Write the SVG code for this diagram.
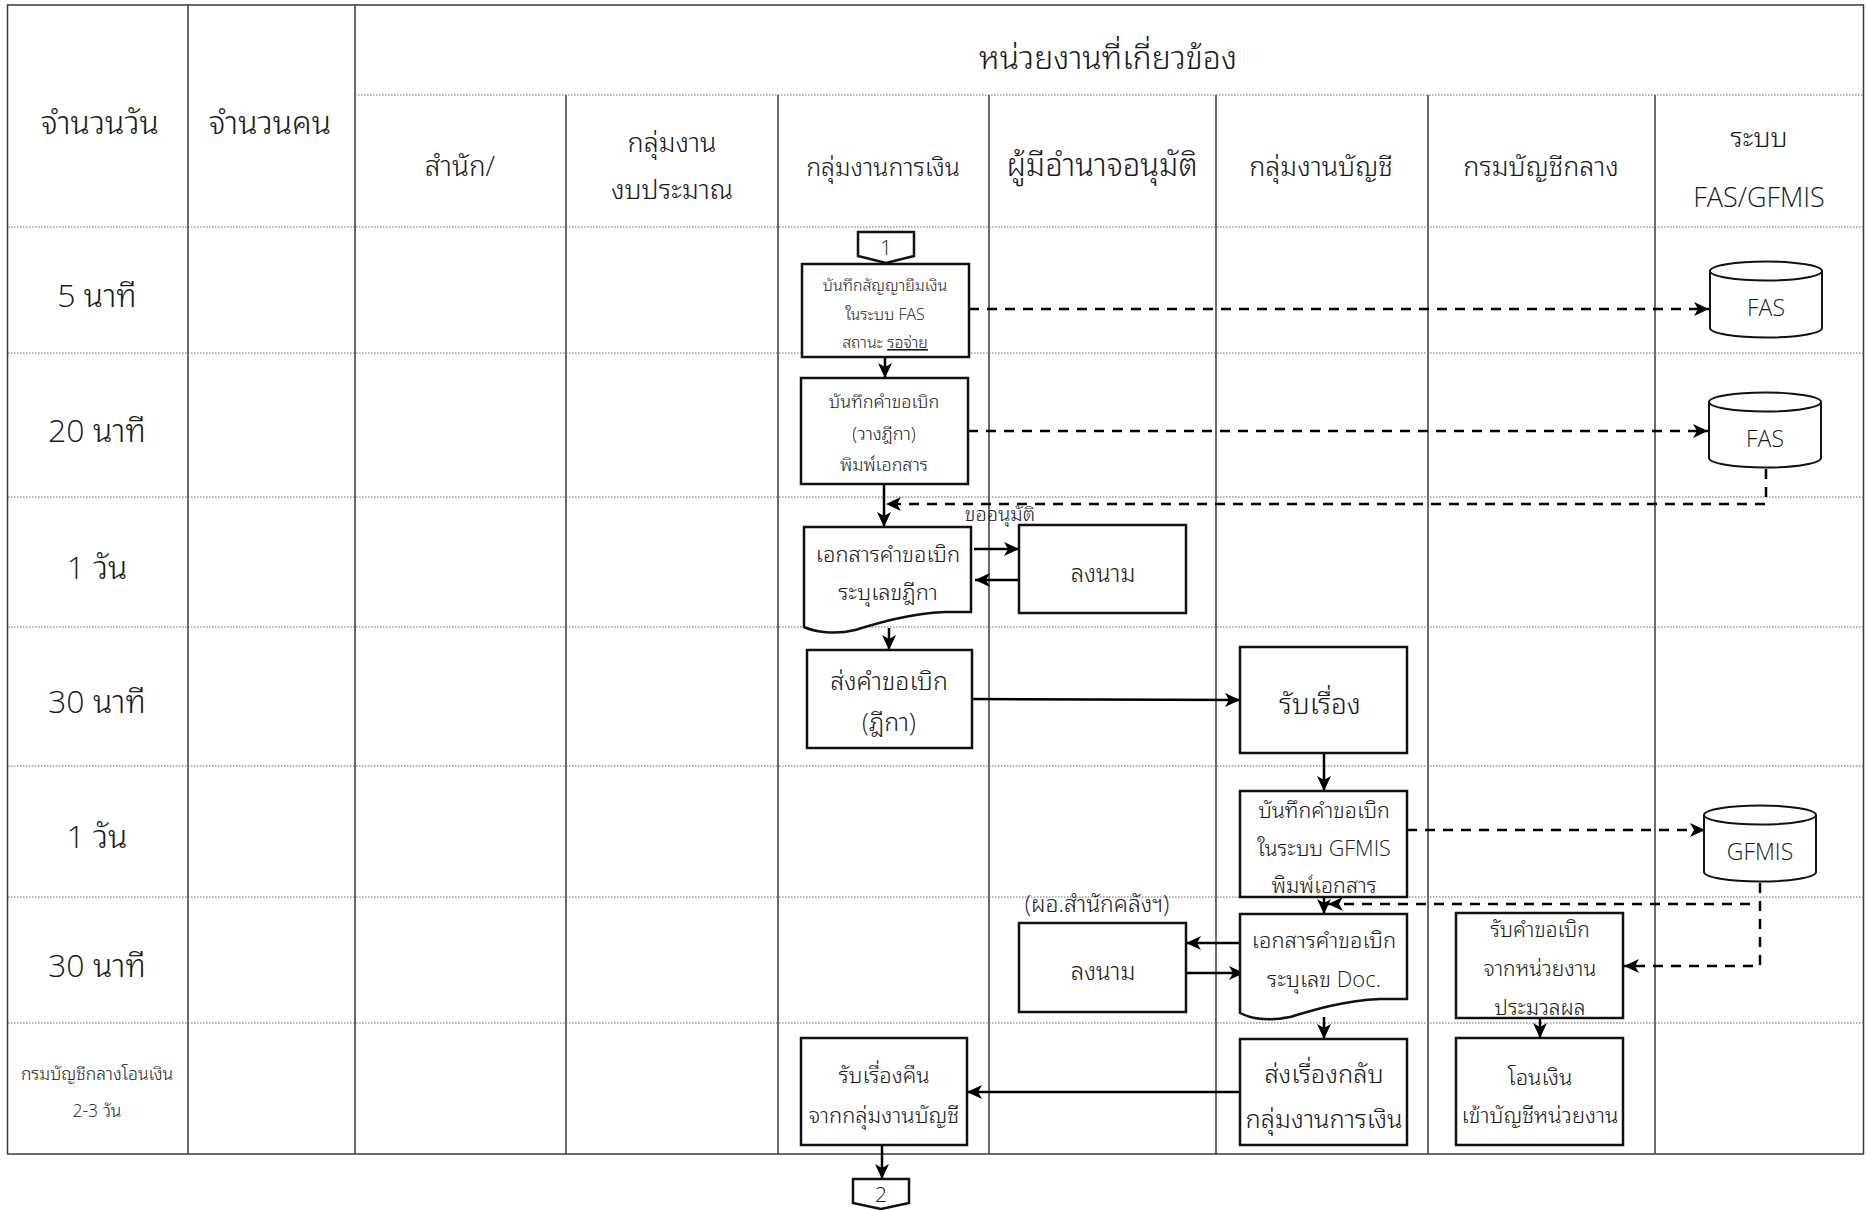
<svg xmlns="http://www.w3.org/2000/svg" width="1866" height="1210" viewBox="0 0 1866 1210">
<style>
text{font-family:"Open Sans","Noto Sans Thai Looped","Loma","Garuda","Noto Sans Thai","Noto Sans",sans-serif;font-weight:300;fill:#1a1a1a;text-anchor:middle}
.grid{stroke:#3a3a3a;stroke-width:1.5;fill:none}
.row{stroke:#666;stroke-width:1;stroke-dasharray:1.5 1.5;fill:none}
.box{fill:#fff;stroke:#111;stroke-width:2.5}
.cyl{fill:#fff;stroke:#111;stroke-width:2}
.ln{fill:none;stroke:#000;stroke-width:2.5}
.dash{fill:none;stroke:#000;stroke-width:2.5;stroke-dasharray:10 8}
.hd{font-size:27px}
.rl{font-size:32px}
.s16{font-size:16px}
.s18{font-size:18px}
.s21{font-size:21px}
.s22{font-size:22px}
.s24{font-size:24px}
.s25{font-size:25px}
</style>
<defs>
<marker id="ah" markerUnits="userSpaceOnUse" markerWidth="16" markerHeight="14" refX="15" refY="7" orient="auto">
<path d="M0,0 L15,7 L0,14 L4,7 Z" fill="#000"/>
</marker>
</defs>
<rect width="1866" height="1210" fill="#fff"/>
<g id="grid">
<rect x="7.5" y="5" width="1856" height="1149" class="grid" stroke="#000"/>
<line x1="188" y1="5" x2="188" y2="1154" class="grid"/>
<line x1="355" y1="5" x2="355" y2="1154" class="grid"/>
<line x1="566" y1="95" x2="566" y2="1154" class="grid"/>
<line x1="778" y1="95" x2="778" y2="1154" class="grid"/>
<line x1="989" y1="95" x2="989" y2="1154" class="grid"/>
<line x1="1216" y1="95" x2="1216" y2="1154" class="grid"/>
<line x1="1428" y1="95" x2="1428" y2="1154" class="grid"/>
<line x1="1655" y1="95" x2="1655" y2="1154" class="grid"/>
<line x1="355" y1="95" x2="1864" y2="95" class="row"/>
<line x1="8" y1="227" x2="1864" y2="227" class="row"/>
<line x1="8" y1="353" x2="1864" y2="353" class="row"/>
<line x1="8" y1="497" x2="1864" y2="497" class="row"/>
<line x1="8" y1="627" x2="1864" y2="627" class="row"/>
<line x1="8" y1="766" x2="1864" y2="766" class="row"/>
<line x1="8" y1="897" x2="1864" y2="897" class="row"/>
<line x1="8" y1="1023" x2="1864" y2="1023" class="row"/>
</g>
<g id="headers">
<text x="1108" y="69" font-size="32">หน่วยงานที่เกี่ยวข้อง</text>
<text x="100" y="134" font-size="32">จำนวนวัน</text>
<text x="270" y="134" font-size="32">จำนวนคน</text>
<text x="460" y="176" font-size="28">สำนัก/</text>
<text x="672" y="152" class="hd">กลุ่มงาน</text>
<text x="672" y="199" class="hd">งบประมาณ</text>
<text x="883" y="176" font-size="25">กลุ่มงานการเงิน</text>
<text x="1102" y="176" font-size="31">ผู้มีอำนาจอนุมัติ</text>
<text x="1321" y="176" class="hd">กลุ่มงานบัญชี</text>
<text x="1541" y="176" class="hd">กรมบัญชีกลาง</text>
<text x="1759" y="147" class="hd">ระบบ</text>
<text x="1759" y="207" class="hd">FAS/GFMIS</text>
</g>
<g id="rowlabels">
<text x="97" y="307" class="rl">5 นาที</text>
<text x="97" y="442" class="rl">20 นาที</text>
<text x="97" y="579" class="rl">1 วัน</text>
<text x="97" y="713" class="rl">30 นาที</text>
<text x="97" y="848" class="rl">1 วัน</text>
<text x="97" y="977" class="rl">30 นาที</text>
<text x="97" y="1080" font-size="17.5">กรมบัญชีกลางโอนเงิน</text>
<text x="97" y="1117" font-size="17.5">2-3 วัน</text>
</g>
<g id="connectors">
<line x1="885" y1="357" x2="885" y2="378" class="ln" marker-end="url(#ah)"/>
<line x1="969" y1="309" x2="1709" y2="309" class="dash" marker-end="url(#ah)"/>
<line x1="968" y1="431" x2="1708" y2="431" class="dash" marker-end="url(#ah)"/>
<line x1="884" y1="484" x2="884" y2="527" class="ln" marker-end="url(#ah)"/>
<path d="M1766,469 V504 H886" class="dash" marker-end="url(#ah)"/>
<line x1="974" y1="549" x2="1019" y2="549" class="ln" marker-end="url(#ah)"/>
<line x1="1019" y1="580" x2="975" y2="580" class="ln" marker-end="url(#ah)"/>
<line x1="889" y1="628" x2="889" y2="650" class="ln" marker-end="url(#ah)"/>
<line x1="972" y1="699" x2="1240" y2="700" class="ln" marker-end="url(#ah)"/>
<line x1="1324" y1="753" x2="1324" y2="791" class="ln" marker-end="url(#ah)"/>
<line x1="1407" y1="830" x2="1705" y2="830" class="dash" marker-end="url(#ah)"/>
<line x1="1324" y1="897" x2="1324" y2="914" class="ln" marker-end="url(#ah)"/>
<path d="M1760,883 V966 H1624" class="dash" marker-end="url(#ah)"/>
<path d="M1750,904 H1328" class="dash" marker-end="url(#ah)"/>
<line x1="1239" y1="943" x2="1186" y2="943" class="ln" marker-end="url(#ah)"/>
<line x1="1186" y1="973" x2="1244" y2="973" class="ln" marker-end="url(#ah)"/>
<line x1="1324" y1="1017" x2="1324" y2="1039" class="ln" marker-end="url(#ah)"/>
<line x1="1540" y1="1018" x2="1540" y2="1038" class="ln" marker-end="url(#ah)"/>
<line x1="1240" y1="1092" x2="967" y2="1092" class="ln" marker-end="url(#ah)"/>
<line x1="882" y1="1145" x2="882" y2="1179" class="ln" marker-end="url(#ah)"/>
<text x="1000" y="521" font-size="20">ขออนุมัติ</text>
<text x="1097" y="912" font-size="23">(ผอ.สำนักคลังฯ)</text>
</g>
<g id="start1">
<path d="M858,232 H914 V256 L886,263 L858,256 Z" class="box" stroke-width="2"/>
<text x="886" y="255" font-size="21">1</text>
</g>
<g id="n-contract">
<rect x="802" y="264" width="167" height="93" class="box"/>
<text x="885" y="291" class="s16">บันทึกสัญญายืมเงิน</text>
<text x="885" y="320" class="s16">ในระบบ FAS</text>
<text x="885" y="348" class="s16">สถานะ <tspan text-decoration="underline">รอจ่าย</tspan></text>
</g>
<g id="n-request">
<rect x="801" y="378" width="167" height="106" class="box"/>
<text x="884" y="408" class="s18">บันทึกคำขอเบิก</text>
<text x="884" y="440" class="s18">(วางฎีกา)</text>
<text x="884" y="471" class="s18">พิมพ์เอกสาร</text>
</g>
<g id="n-doc1">
<path d="M804,527 H971 V612 L945,612 C905,614 875,624 855,630 C835,635 815,632 804,627 Z" class="box"/>
<text x="888" y="562" class="s22">เอกสารคำขอเบิก</text>
<text x="888" y="600" class="s22">ระบุเลขฎีกา</text>
</g>
<g id="n-sign1">
<rect x="1019" y="525" width="167" height="88" class="box"/>
<text x="1103" y="582" class="s24">ลงนาม</text>
</g>
<g id="n-send">
<rect x="807" y="650" width="165" height="98" class="box"/>
<text x="889" y="690" class="s25">ส่งคำขอเบิก</text>
<text x="889" y="731" class="s25">(ฎีกา)</text>
</g>
<g id="n-receive">
<rect x="1240" y="647" width="167" height="106" class="box"/>
<text x="1320" y="714" font-size="28">รับเรื่อง</text>
</g>
<g id="n-gfmis-rec">
<rect x="1240" y="791" width="167" height="106" class="box"/>
<text x="1324" y="818" font-size="21.5">บันทึกคำขอเบิก</text>
<text x="1324" y="856" font-size="21.5">ในระบบ GFMIS</text>
<text x="1324" y="893" font-size="21.5">พิมพ์เอกสาร</text>
</g>
<g id="n-doc2">
<path d="M1240,914 H1407 V999 L1380,999 C1340,1001 1310,1011 1290,1017 C1270,1021 1252,1019 1240,1013 Z" class="box"/>
<text x="1324" y="948" class="s22">เอกสารคำขอเบิก</text>
<text x="1324" y="987" class="s22">ระบุเลข Doc.</text>
</g>
<g id="n-sign2">
<rect x="1019" y="923" width="167" height="89" class="box"/>
<text x="1103" y="980" class="s24">ลงนาม</text>
</g>
<g id="n-cgd-rec">
<rect x="1456" y="913" width="167" height="105" class="box"/>
<text x="1540" y="937" class="s21">รับคำขอเบิก</text>
<text x="1540" y="976" class="s21">จากหน่วยงาน</text>
<text x="1540" y="1015" class="s21">ประมวลผล</text>
</g>
<g id="n-return">
<rect x="1240" y="1039" width="167" height="106" class="box"/>
<text x="1324" y="1083" font-size="25.5">ส่งเรื่องกลับ</text>
<text x="1324" y="1128" font-size="25.5">กลุ่มงานการเงิน</text>
</g>
<g id="n-transfer">
<rect x="1456" y="1038" width="167" height="107" class="box"/>
<text x="1540" y="1085" class="s22">โอนเงิน</text>
<text x="1540" y="1123" class="s22">เข้าบัญชีหน่วยงาน</text>
</g>
<g id="n-back">
<rect x="801" y="1038" width="166" height="107" class="box"/>
<text x="884" y="1083" class="s22">รับเรื่องคืน</text>
<text x="884" y="1123" class="s22">จากกลุ่มงานบัญชี</text>
</g>
<g id="end2">
<path d="M853,1179 H909 V1203 L881,1209 L853,1203 Z" class="box" stroke-width="2"/>
<text x="881" y="1202" font-size="21">2</text>
</g>
<g id="db-fas1">
<path d="M1710,271 V328 A56,9.5 0 0 0 1822,328 V271" class="cyl"/>
<ellipse cx="1766" cy="271" rx="56" ry="9.5" class="cyl"/>
<text x="1766" y="316" font-size="23">FAS</text>
</g>
<g id="db-fas2">
<path d="M1709,402 V458 A56,9.5 0 0 0 1821,458 V402" class="cyl"/>
<ellipse cx="1765" cy="402" rx="56" ry="9.5" class="cyl"/>
<text x="1765" y="447" font-size="23">FAS</text>
</g>
<g id="db-gfmis">
<path d="M1704,815 V872 A56,9.5 0 0 0 1816,872 V815" class="cyl"/>
<ellipse cx="1760" cy="815" rx="56" ry="9.5" class="cyl"/>
<text x="1760" y="860" font-size="23">GFMIS</text>
</g>
</svg>
